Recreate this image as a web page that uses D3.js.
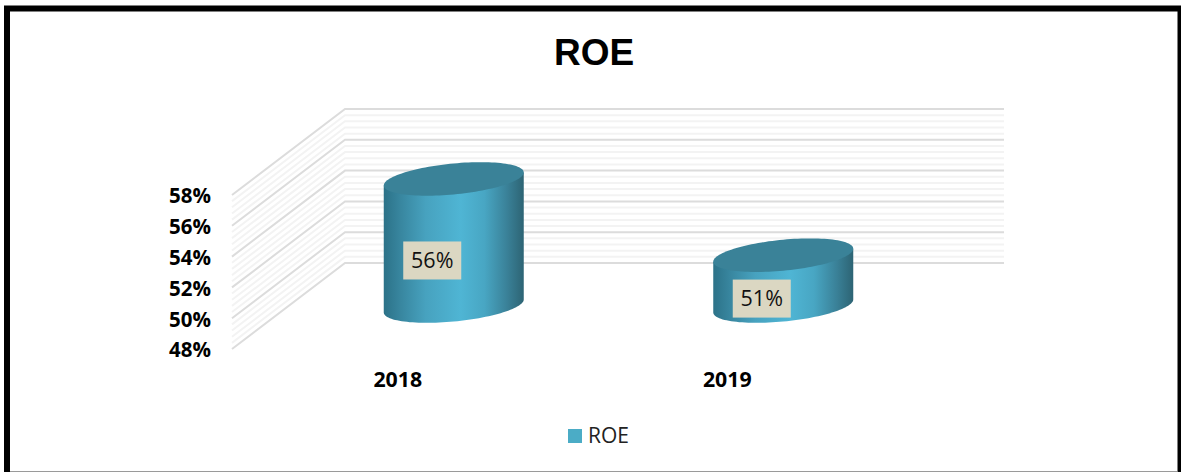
<!DOCTYPE html>
<html>
<head>
<meta charset="utf-8">
<script src="https://cdn.jsdelivr.net/npm/d3@7"></script>
<style>
html,body{margin:0;padding:0;background:#fff;overflow:hidden}
svg{display:block}
</style>
</head>
<body>
<svg id="chart" width="1181" height="472"></svg>
<script>
const chartTitle = "ROE";
const categories = ["2018", "2019"];
const roeValues = [0.5625, 0.513];
const seriesName = "ROE";
const yTicks = [0.48, 0.50, 0.52, 0.54, 0.56, 0.58];
const yMinorTicks = [0.484,0.488,0.492,0.496,0.504,0.508,0.512,0.516,0.524,0.528,0.532,0.536,0.544,0.548,0.552,0.556,0.564,0.568,0.572,0.576];

const svg = d3.select("#chart");
const width = 1181, height = 472;

// 3D projection of the floor: back wall to front edge
const depthX = -113, depthY = 86;
const x = d3.scaleBand().domain(categories).range([345, 1004]);
const y = d3.scaleLinear().domain([0.48, 0.58]).range([263, 109]);

// frame
svg.append("path")
  .attr("d", "M7 472V8.5H1181")
  .attr("fill", "none").attr("stroke", "#000").attr("stroke-width", 6);
svg.append("rect").attr("x", 1177.5).attr("y", 6).attr("width", 4).attr("height", 466).attr("fill", "#000");
svg.append("line").attr("x1", 10).attr("x2", 1177).attr("y1", 471.5).attr("y2", 471.5)
  .attr("stroke", "#9a9a9a").attr("stroke-width", 1);

// title
svg.append("text").attr("x", 594).attr("y", 65).attr("text-anchor", "middle")
  .attr("font-family", "'Liberation Sans', Arial, sans-serif").attr("font-weight", 700)
  .attr("font-size", 37).attr("fill", "#000").text(chartTitle);

// gridlines
const wall = svg.append("g").attr("fill", "none").attr("stroke-width", 2);
function wallLine(v) {
  const p = d3.path();
  p.moveTo(x.range()[0] + depthX, y(v) + depthY);
  p.lineTo(x.range()[0], y(v));
  p.lineTo(x.range()[1], y(v));
  return p.toString();
}
wall.selectAll(".minor").data(yMinorTicks).join("path").attr("class", "minor")
  .attr("d", wallLine).attr("stroke", "#f3f3f3");
wall.selectAll(".major").data(yTicks).join("path").attr("class", "major")
  .attr("d", wallLine).attr("stroke", "#dcdcdc");

// y tick labels
svg.append("g").selectAll("text").data(yTicks).join("text")
  .attr("x", 211).attr("y", d => y(d) + depthY + 8.4)
  .attr("text-anchor", "end")
  .attr("font-family", "'Open Sans', sans-serif").attr("font-weight", 700)
  .attr("font-size", 20.5).attr("fill", "#000")
  .text(d3.format(".0%"));

// category labels
svg.append("g").selectAll("text").data(categories).join("text")
  .attr("x", d => x(d) + x.bandwidth() / 2 + depthX + 1)
  .attr("y", 387)
  .attr("text-anchor", "middle")
  .attr("font-family", "'Open Sans', sans-serif").attr("font-weight", 700)
  .attr("font-size", 21.3).attr("fill", "#000")
  .text(d => d);

// cylinders
const defs = svg.append("defs");
const grad = defs.append("linearGradient").attr("id", "cyl").attr("x1", 0).attr("x2", 1).attr("y1", 0).attr("y2", 0);
[[0, "#2c7288"], [0.12, "#38869f"], [0.3, "#47a2bf"], [0.55, "#4fb5d4"], [0.72, "#48a6c3"], [0.88, "#3a8198"], [1, "#2d6474"]]
  .forEach(([o, c]) => grad.append("stop").attr("offset", o).attr("stop-color", c));

const rx = 70, tilt = 6.5, minor = 15.5;
const ell = t => [rx * Math.cos(t), -tilt * Math.cos(t) + minor * Math.sin(t)];
const line = d3.line();

const cyl = svg.append("g").selectAll("g").data(categories.map((c, i) => ({ c, v: roeValues[i] }))).join("g")
  .attr("transform", d => `translate(${x(d.c) + x.bandwidth() / 2 + depthX / 2 + 0.5},${y(0.48) + depthY / 2})`);

cyl.append("path")
  .attr("fill", "url(#cyl)")
  .attr("d", d => {
    const h = y(0.48) - y(d.v);
    const pts = [];
    pts.push([rx, -tilt - h]);
    d3.range(0, 61).forEach(i => pts.push(ell(Math.PI * i / 60)));
    pts.push([-rx, tilt - h]);
    return line(pts) + "Z";
  });
cyl.append("path")
  .attr("fill", "#3a8298")
  .attr("d", d => {
    const h = y(0.48) - y(d.v);
    return line(d3.range(0, 120).map(i => {
      const p = ell(2 * Math.PI * i / 120);
      return [p[0], p[1] - h];
    })) + "Z";
  });

// data labels
const labelW = 58, labelH = 38;
const labels = svg.append("g").selectAll("g").data(categories.map((c, i) => ({ c, v: roeValues[i] }))).join("g")
  .attr("transform", (d, i) => `translate(${x(d.c) + x.bandwidth() / 2 + depthX / 2 - 21},${(y(d.v) + y(0.48)) / 2 + depthY / 2 + 18})`);
labels.append("rect").attr("x", -labelW / 2).attr("y", -labelH / 2).attr("width", labelW).attr("height", labelH)
  .attr("fill", "#dbd7c2");
labels.append("text").attr("text-anchor", "middle").attr("y", 7.5)
  .attr("font-family", "'Open Sans', sans-serif").attr("font-size", 21.5).attr("fill", "#111")
  .text(d => d3.format(".0%")(d.v));

// legend
svg.append("rect").attr("x", 568).attr("y", 429).attr("width", 14).attr("height", 14).attr("fill", "#4bacc6");
svg.append("text").attr("x", 588).attr("y", 443)
  .attr("font-family", "'Open Sans', sans-serif").attr("font-size", 21).attr("fill", "#222")
  .text(seriesName);
</script>
</body>
</html>
